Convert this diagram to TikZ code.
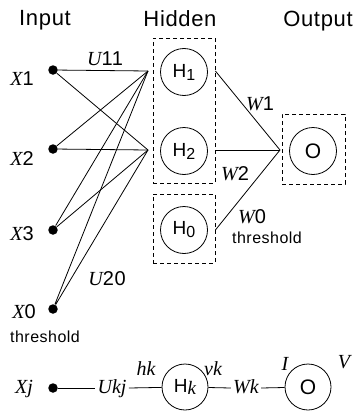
\documentclass[tikz,border=0pt]{standalone}
\usepackage{fontspec}
\setmainfont{Liberation Sans}[LetterSpace=3]
\newfontfamily\varfont{Liberation Serif}
\usetikzlibrary{positioning}
\newcommand{\iv}[1]{{\varfont\itshape #1}}
\newcommand{\lo}[1]{\raisebox{-3pt}{\fontsize{16}{16}\selectfont #1}}

\begin{document}
\begin{tikzpicture}[x=1pt, y=-1pt, line width=0.8pt,
  every node/.style={font=\fontsize{20}{22}\selectfont},
  title/.style={font=\fontsize{22}{24}\selectfont, anchor=base},
  neuron/.style={draw, circle, minimum size=47pt, inner sep=0pt,
    font=\fontsize{19}{21}\selectfont},
  outunit/.style={neuron, font=\fontsize{21}{23}\selectfont},
  inp/.style={circle, fill, inner sep=0pt, minimum size=9.5pt},
  group/.style={draw, dash pattern=on 4pt off 3pt, inner sep=0pt},
  small/.style={font=\fontsize{16}{18}\selectfont}]
  \useasboundingbox (0,0) rectangle (356,415);

  % Titles
  \node[title] (intitle) at (45,25) {Input};
  \node[title] (hidtitle) at (180,27) {Hidden};
  \node[title] (outtitle) at (318,26) {Output};

  % Input layer
  \node[inp] (x1) at (53,70) {};
  \node[inp] (x2) at (53,149) {};
  \node[inp] (x3) at (53,230) {};
  \node[inp] (x0) at (53,309) {};
  \node[anchor=base] (x1lab) at (22,85) {\iv{X}1};
  \node[anchor=base] (x2lab) at (22,165) {\iv{X}2};
  \node[anchor=base] (x3lab) at (22,240) {\iv{X}3};
  \node[anchor=base] (x0lab) at (24,318) {\iv{X}0};
  \node[small, anchor=base] (x0thr) at (45,342) {threshold};

  % Hidden layer
  \node[group, minimum width=62pt, minimum height=145pt] (hidbox) at (184,110.5) {};
  \node[neuron] (h1) at (184,72) {H\lo{1}};
  \node[neuron] (h2) at (184,151) {H\lo{2}};
  \node[group, minimum width=62pt, minimum height=69pt] (thrbox) at (184,228.5) {};
  \node[neuron] (h0) at (184,230) {H\lo{0}};

  \coordinate (h1in) at (148,71);
  \coordinate (h2in) at (148,150);
  \foreach \i in {1,2,3,0}
    \draw (x\i) -- (h1in) (x\i) -- (h2in);
  \node[anchor=base] (u11) at (105,65) {\iv{U}11};
  \node[anchor=base] (u20) at (107,285) {\iv{U}20};

  % Output layer
  \node[group, minimum width=63pt, minimum height=70pt] (outbox) at (313.5,149) {};
  \node[outunit] (o) at (313,151) {O};
  \coordinate (oin) at (280,150);
  \draw (hidbox.east |- h1in) -- (oin);
  \draw (hidbox.east |- h2in) -- (oin);
  \draw (thrbox.east |- h0) -- (oin);
  \node[anchor=base] (w1) at (260,110) {\iv{W}1};
  \node[anchor=base] (w2) at (235,180) {\iv{W}2};
  \node[anchor=base] (w0) at (252,223) {\iv{W}0};
  \node[small, anchor=base] (hthr) at (267,243) {threshold};

  % Single unit
  \node[inp] (xj) at (53,388) {};
  \node[anchor=base] (xjlab) at (24,393) {\iv{Xj}};
  \node[anchor=base, inner xsep=2pt] (ukj) at (112,393) {\iv{Ukj}};
  \node[neuron, minimum size=46pt] (hk) at (185,387) {H\raisebox{-2pt}{\iv{k}}};
  \node[anchor=base, inner xsep=2pt] (wk) at (246,393) {\iv{Wk}};
  \node[outunit, minimum size=46pt] (ok) at (308,387) {O};
  \draw (xj) -- (ukj.west |- xj);
  \draw (ukj.east |- xj) -- (hk);
  \draw (hk) -- (wk.west |- xj);
  \draw (wk.east |- xj) -- (ok);
  \node[anchor=base] (hklab) at (146,375) {\iv{hk}};
  \node[anchor=base] (vklab) at (213,375) {\iv{vk}};
  \node[anchor=base] (ilab) at (285,370) {\iv{I}};
  \node[anchor=base] (vlab) at (344,368) {\iv{V}};
\end{tikzpicture}
\end{document}
